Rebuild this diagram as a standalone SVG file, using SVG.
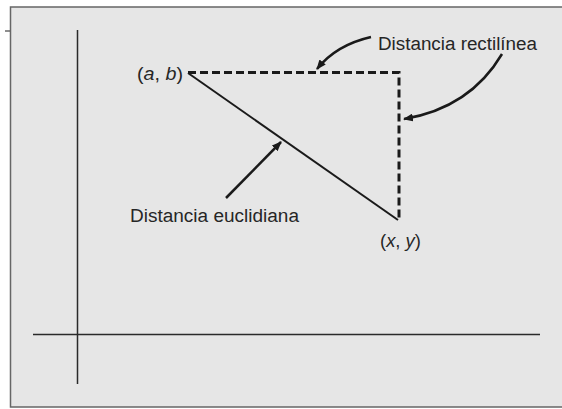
<svg xmlns="http://www.w3.org/2000/svg" width="562" height="409" viewBox="0 0 562 409">
<style>
text{font-family:"Liberation Sans","DejaVu Sans",sans-serif;fill:#262626;font-size:18px}
.axis{stroke:#2a2a2a;stroke-width:1.5;fill:none}
.dash{stroke:#1a1a1a;stroke-width:3;stroke-dasharray:8 4;fill:none}
.solid{stroke:#1a1a1a;stroke-width:2;fill:none}
.ptr{stroke:#1a1a1a;stroke-width:2.5;fill:none;marker-end:url(#ah)}
</style>
<defs>
<marker id="ah" viewBox="0 0 10 8" refX="9" refY="4" markerWidth="4" markerHeight="3.2" orient="auto" markerUnits="strokeWidth">
<path d="M0,0 L10,4 L0,8 z" fill="#1a1a1a"/>
</marker>
</defs>
<rect x="0" y="0" width="562" height="409" fill="#ffffff"/>
<line x1="5" y1="31" x2="11" y2="31" stroke="#444" stroke-width="1.2"/>
<rect x="10.5" y="7" width="560" height="400" fill="#e6e6e6" stroke="#666" stroke-width="1.5"/>
<g id="axes">
<line class="axis" x1="77.5" y1="30" x2="77.5" y2="384"/>
<line class="axis" x1="33" y1="334.5" x2="540" y2="334.5" stroke="#555"/>
</g>
<g id="connectors">
<path class="dash" d="M188,72.5 H399 V221"/>
<line class="solid" x1="188" y1="73" x2="398" y2="220"/>
<path class="ptr" d="M371,37 Q336,45 317,69"/>
<path class="ptr" d="M502,54 Q470,108 404,119"/>
<line class="ptr" x1="226" y1="198" x2="281" y2="142"/>
</g>
<g id="node-ab">
<text x="137" y="80" textLength="46" lengthAdjust="spacingAndGlyphs">(<tspan font-style="italic">a</tspan>, <tspan font-style="italic">b</tspan>)</text>
</g>
<g id="node-xy">
<text x="380" y="247" textLength="41" lengthAdjust="spacingAndGlyphs">(<tspan font-style="italic">x</tspan>, <tspan font-style="italic">y</tspan>)</text>
</g>
<g id="label-rect">
<text x="378" y="50" textLength="159" lengthAdjust="spacingAndGlyphs">Distancia rectilínea</text>
</g>
<g id="label-eucl">
<text x="130" y="222" textLength="169" lengthAdjust="spacingAndGlyphs">Distancia euclidiana</text>
</g>
</svg>
